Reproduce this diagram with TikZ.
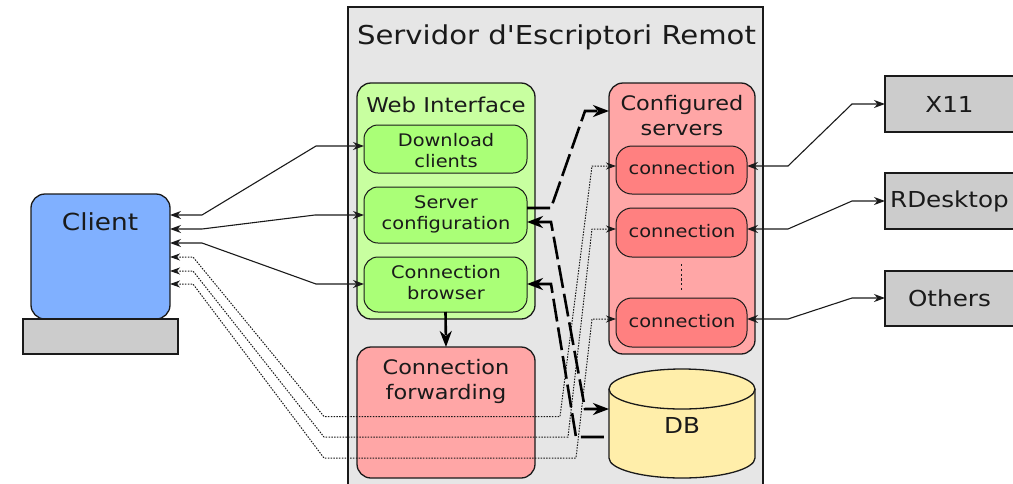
\documentclass[tikz,border=0pt]{standalone}
\usepackage{fontspec}
\setmainfont{DejaVu Sans}[FakeStretch=1.12]
\newfontfamily\plainfont{DejaVu Sans}[FakeStretch=1.12,Ligatures=Common]
\usetikzlibrary{arrows.meta}
\definecolor{srv}{HTML}{E6E6E6}
\definecolor{cli}{HTML}{80B0FF}
\definecolor{gry}{HTML}{CCCCCC}
\definecolor{webc}{HTML}{C8FFA0}
\definecolor{webi}{HTML}{AAFF77}
\definecolor{redl}{HTML}{FFA6A6}
\definecolor{redd}{HTML}{FF8080}
\definecolor{dbc}{HTML}{FFEEAA}
\definecolor{ink}{HTML}{1A1A1A}
\tikzset{
  x=1pt,y=-1pt,
  bx/.style={draw=ink,line width=1.3pt,outer sep=0pt,inner sep=0pt},
  rbox/.style={bx,rounded corners=#1},
  rbox/.default=14pt,
  txt/.style={text=ink,align=center,inner sep=0pt,font=\fontsize{17.3}{21}\selectfont},
  big/.style={txt,font=\fontsize{20}{24.5}\selectfont},
  ext/.style={txt,font=\fontsize{22}{25}\selectfont},
  solidc/.style={draw=ink,line width=1.1pt,{Stealth[length=11pt,width=8pt,inset=3.5pt]}-{Stealth[length=11pt,width=8pt,inset=3.5pt]}},
  dotc/.style={draw=ink,line width=1pt,dash pattern=on 1.5pt off 1.3pt,{Stealth[length=10pt,width=7pt,inset=3pt]}-{Stealth[length=10pt,width=7pt,inset=3pt]}},
  dashc/.style={draw=black,line width=2.6pt,dash pattern=on 23pt off 6pt},
  tip/.style={-{Stealth[length=16pt,width=12pt,inset=5pt]}},
  liptip/.style={{Stealth[length=16pt,width=12pt,inset=5pt]}-},
  bothtip/.style={{Stealth[length=16pt,width=12pt,inset=5pt]}-{Stealth[length=16pt,width=12pt,inset=5pt]}},
}
\newcommand{\bxnode}[7]{\node[#6,minimum width={(#4-#2)*1pt},minimum height={(#5-#3)*1pt}] (#1) at ({(#2+#4)/2},{(#3+#5)/2}) {#7};}
\begin{document}
\begin{tikzpicture}
\useasboundingbox (0,0) rectangle (1013,483);
\clip (0,0) rectangle (1013,483);
% frames
\bxnode{server}{348}{7}{763}{500}{bx,line width=2pt,fill=srv}{}
\node[txt,font=\fontsize{26}{30}\plainfont] (title) at (556.5,37) {Servidor d'Escriptori Remot};
% client
\bxnode{client}{31}{194}{170}{319}{rbox=14pt,fill=cli}{}
\node[txt,font=\fontsize{23.5}{25}\selectfont] (clientl) at (100,222) {Client};
\bxnode{kbd}{23}{319}{178}{354}{bx,line width=2pt,fill=gry}{}
% web interface
\bxnode{web}{357}{83}{535}{319}{rbox=14pt,fill=webc}{}
\node[txt,font=\fontsize{20.4}{25}\selectfont] (webl) at (446,105) {Web Interface};
\bxnode{dl}{364}{125}{527}{173}{rbox=14pt,fill=webi,line width=1pt}{}
\node[txt] (dll) at (446,151) {Download\\clients};
\bxnode{conf}{364}{187}{527}{243}{rbox=14pt,fill=webi,line width=1pt}{}
\node[txt] (confl) at (446,214.5) {Server\\configuration};
\bxnode{brow}{364}{257}{527}{312}{rbox=14pt,fill=webi,line width=1pt}{}
\node[txt] (browl) at (446,283) {Connection\\browser};
% forwarding
\bxnode{fwd}{357}{347}{535}{478}{rbox=14pt,fill=redl}{}
\node[big] (fwdl) at (446,381.5) {Connection\\forwarding};
% configured servers
\bxnode{cfg}{609}{83}{755}{354}{rbox=14pt,fill=redl}{}
\node[big] (cfgl) at (682,115.5) {Configured\\servers};
\bxnode{c1}{616}{146}{747}{194}{rbox=16pt,fill=redd,line width=1pt}{}
\node[txt] (c1l) at (682,168) {connection};
\bxnode{c2}{616}{208}{747}{257}{rbox=16pt,fill=redd,line width=1pt}{}
\node[txt] (c2l) at (682,231) {connection};
\bxnode{c3}{616}{298}{747}{347}{rbox=16pt,fill=redd,line width=1pt}{}
\node[txt] (c3l) at (682,321) {connection};
\draw[ink,line width=1.8pt,dash pattern=on 2.2pt off 2.6pt] (681.5,264) -- (681.5,290);
% DB
\draw[bx,fill=dbc] (609,389) -- (609,458) arc[start angle=180,end angle=360,x radius=73,y radius=-20] -- (755,389);
\draw[bx,fill=dbc] (682,389) ellipse[x radius=73,y radius=20];
\node[minimum width=146pt,minimum height=109pt,inner sep=0pt,outer sep=0pt] (db) at (682,423) {};
\node[ext] (dbl) at (682,425) {DB};
% external
\bxnode{x}{885}{76}{1020}{132}{bx,fill=gry}{}
\node[ext] (xl) at (949.5,104) {X11};
\bxnode{rd}{885}{173}{1020}{229}{bx,fill=gry}{}
\node[ext] (rdl) at (949.5,201) {RDesktop};
\bxnode{ot}{885}{271}{1020}{326}{bx,fill=gry}{}
\node[ext] (otl) at (949.5,298) {Others};
% bend points
\coordinate (a1) at (202,215); \coordinate (a2) at (316,146);
\coordinate (b1) at (202,229); \coordinate (b2) at (315,215);
\coordinate (d1) at (202,243); \coordinate (d2) at (316,284);
\coordinate (e1) at (193,257); \coordinate (e2) at (324,416.5); \coordinate (e3) at (560,416.5); \coordinate (e4) at (592,166);
\coordinate (f1) at (193,271); \coordinate (f2) at (324,437); \coordinate (f3) at (568,437); \coordinate (f4) at (592,229);
\coordinate (g1) at (193,284); \coordinate (g2) at (324,458); \coordinate (g3) at (576,458); \coordinate (g4) at (592,319);
\coordinate (h1) at (551,208); \coordinate (h2) at (585,111);
\coordinate (i1) at (551,222); \coordinate (i2) at (585,409);
\coordinate (j1) at (551,284); \coordinate (j2) at (576,437);
\coordinate (k1) at (788,166); \coordinate (k2) at (852,104);
\coordinate (l1) at (788,229); \coordinate (l2) at (852,201);
\coordinate (m1) at (788,319); \coordinate (m2) at (852,298);
% client connectors
\draw[solidc] (client.east |- a1) -- (a1) -- (a2) -- (dl.west |- a2);
\draw[solidc] (client.east |- b1) -- (b1) -- (b2) -- (conf.west |- b2);
\draw[solidc] (client.east |- d1) -- (d1) -- (d2) -- (brow.west |- d2);
\draw[dotc] (client.east |- e1) -- (e1) -- (e2) -- (e3) -- (e4) -- (c1.west |- e4);
\draw[dotc] (client.east |- f1) -- (f1) -- (f2) -- (f3) -- (f4) -- (c2.west |- f4);
\draw[dotc] (client.east |- g1) -- (g1) -- (g2) -- (g3) -- (g4) -- (c3.west |- g4);
% dashed
\draw[dashc,tip] (conf.east |- h1) -- (h1) -- (h2) -- (cfg.west |- h2);
\draw[dashc,bothtip] (conf.east |- i1) -- (i1) -- (i2) -- (db.west |- i2);
\draw[dashc,liptip] (brow.east |- j1) -- (j1) -- (j2) -- (db.west |- j2);
\draw[dashc,tip] (brow.south) -- (fwd.north);
% external
\draw[solidc] (c1.east |- k1) -- (k1) -- (k2) -- (x.west |- k2);
\draw[solidc] (c2.east |- l1) -- (l1) -- (l2) -- (rd.west |- l2);
\draw[solidc] (c3.east |- m1) -- (m1) -- (m2) -- (ot.west |- m2);
\end{tikzpicture}
\end{document}
